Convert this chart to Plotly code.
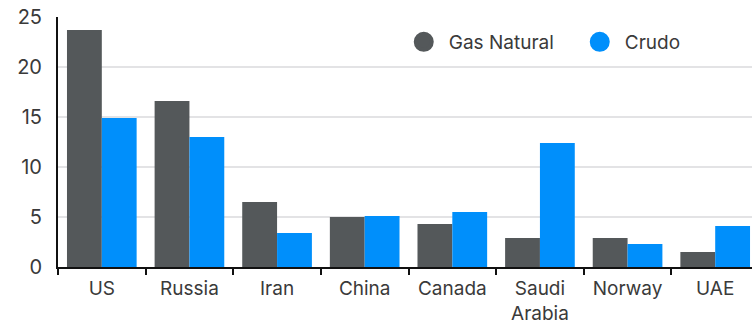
import plotly.graph_objects as go

categories = ["US", "Russia", "Iran", "China", "Canada", "Saudi<br>Arabia", "Norway", "UAE"]
gas_natural = [23.7, 16.6, 6.5, 5.0, 4.3, 2.9, 2.9, 1.5]
crudo = [14.9, 13.0, 3.4, 5.1, 5.5, 12.4, 2.3, 4.1]
y_ticks = [0, 5, 10, 15, 20, 25]

GRAY = "#54585a"
BLUE = "#008ffb"
FONT = "Inter, Roboto, Arial, sans-serif"
TXT = "#3a3a3a"

fig = go.Figure()
fig.add_trace(go.Bar(x=categories, y=gas_natural, name="Gas Natural", marker_color=GRAY,
                     marker_line_width=0, showlegend=False))
fig.add_trace(go.Bar(x=categories, y=crudo, name="Crudo", marker_color=BLUE,
                     marker_line_width=0, showlegend=False))
# legend entries with circle markers
fig.add_trace(go.Scatter(x=[None], y=[None], mode="markers", name="Gas Natural",
                         marker=dict(symbol="circle", size=20, color=GRAY,
                                     line=dict(color=GRAY, width=4))))
fig.add_trace(go.Scatter(x=[None], y=[None], mode="markers", name="Crudo",
                         marker=dict(symbol="circle", size=20, color=BLUE,
                                     line=dict(color=BLUE, width=4))))

fig.update_layout(
    width=752, height=324,
    margin=dict(l=58, r=0, t=17, b=57, autoexpand=False),
    paper_bgcolor="white", plot_bgcolor="white",
    barmode="group", bargap=0.205, bargroupgap=0,
    font=dict(family=FONT, size=19, color=TXT),
    legend=dict(orientation="h", x=0.491, xanchor="left", y=0.9, yanchor="middle",
                bgcolor="rgba(0,0,0,0)", font=dict(size=19, color=TXT),
                itemwidth=40, entrywidth=121, entrywidthmode="pixels"),
    xaxis=dict(type="category", range=[-0.5, 7.42], showgrid=False, showline=True,
               linecolor="#111111", linewidth=2,
               ticks="outside", tickson="boundaries", ticklen=6, tickwidth=2, tickcolor="#111111",
               tickfont=dict(size=19, color=TXT), ticklabelstandoff=3, fixedrange=True),
    yaxis=dict(range=[0, 25], tickvals=y_ticks, showgrid=True, gridcolor="#e3e3e5", gridwidth=2,
               showline=True, linecolor="#111111", linewidth=2, zeroline=False,
               ticks="", tickfont=dict(size=20, color=TXT), ticklabelstandoff=10),
)

fig.write_html("out.html")
